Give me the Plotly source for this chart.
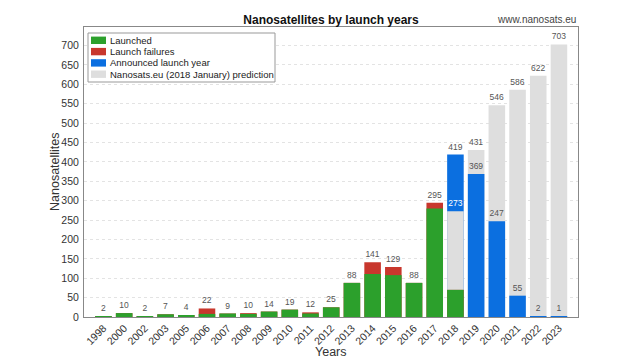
import plotly.graph_objects as go

years = ['1998', '2000', '2002', '2003', '2005', '2006', '2007', '2008', '2009', '2010',
         '2011', '2012', '2013', '2014', '2015', '2016', '2017', '2018', '2019', '2020',
         '2021', '2022', '2023']

# historic launches (1998-2018)
hist_years = years[:18]
launched = [2, 10, 2, 7, 4, 8, 9, 8, 14, 19, 9, 25, 88, 111, 108, 88, 280, 70]
failures = [0, 0, 0, 0, 0, 14, 0, 2, 0, 0, 3, 0, 0, 30, 21, 0, 15, 0]

# future (2018-2023)
future_years = years[17:]
announced = [419, 369, 247, 55, 2, 1]
prediction = [273, 431, 546, 586, 622, 703]

legend_names = ['Launched', 'Launch failures', 'Announced launch year',
                'Nanosats.eu (2018 January) prediction']

GREEN = '#2ca02c'
RED = '#c8372d'
BLUE = '#0b6fe0'
GRAY = '#dedede'
LABEL = '#555555'
FONT = 'Liberation Sans, Arial, sans-serif'
legend_colors = [GREEN, RED, BLUE, GRAY]

totals = [a + b for a, b in zip(launched, failures)]
hist_text = [str(t) for t in totals[:17]] + ['']

# figure geometry (page body has an 8px margin)
W, H = 632, 352
ML, MR, MT, MB = 76, 62, 19, 43
PW, PH = W - ML - MR, H - MT - MB


def px_x(px):  # px from plot-area left -> paper
    return px / PW


def px_y(px):  # px from plot-area top -> paper
    return 1 - px / PH


lbl = dict(textposition='outside', constraintext='none', cliponaxis=False, width=0.8)

fig = go.Figure()

fig.add_trace(go.Bar(
    x=future_years[1:], y=prediction[1:], name=legend_names[3],
    marker=dict(color=GRAY, line=dict(width=0)), text=[str(v) for v in prediction[1:]],
    textfont=dict(color=LABEL, size=8.5), showlegend=False, **lbl))

fig.add_trace(go.Bar(
    x=future_years, y=announced, name=legend_names[2],
    marker=dict(color=BLUE, line=dict(width=0)), text=[str(v) for v in announced],
    textfont=dict(color=LABEL, size=8.5), showlegend=False, **lbl))

# 2018 prediction lies below the announced value, drawn on top of it
fig.add_trace(go.Bar(
    x=future_years[:1], y=prediction[:1], name=legend_names[3],
    marker=dict(color=GRAY, line=dict(width=0)), text=[str(prediction[0])],
    textfont=dict(color='white', size=8.5), showlegend=False, **lbl))

fig.add_trace(go.Bar(
    x=hist_years, y=totals, name=legend_names[1],
    marker=dict(color=RED, line=dict(width=0)), text=hist_text,
    textfont=dict(color=LABEL, size=8.5), showlegend=False, **lbl))

fig.add_trace(go.Bar(
    x=hist_years, y=launched, name=legend_names[0],
    marker=dict(color=GREEN, line=dict(width=0)), showlegend=False, width=0.8))

# compact legend box
shapes = [dict(type='rect', xref='paper', yref='paper',
               x0=px_x(4), x1=px_x(191), y0=px_y(55), y1=px_y(6),
               fillcolor='white', line=dict(color='#999999', width=1))]
annotations = []
for i, (name, col) in enumerate(zip(legend_names, legend_colors)):
    cy = 13.3 + i * 11.3
    shapes.append(dict(type='rect', xref='paper', yref='paper',
                       x0=px_x(7), x1=px_x(22), y0=px_y(cy + 3.7), y1=px_y(cy - 3.7),
                       fillcolor=col, line=dict(width=0)))
    annotations.append(dict(text=name, xref='paper', yref='paper', x=px_x(24), y=px_y(cy),
                            xanchor='left', yanchor='middle', showarrow=False,
                            font=dict(size=9.5, color='#222222')))

annotations += [
    dict(text='www.nanosats.eu', xref='paper', yref='paper', x=1, y=1,
         xanchor='right', yanchor='bottom', showarrow=False,
         font=dict(size=10, color='#444444')),
    dict(text='Nanosatellites', xref='paper', yref='paper', x=0, y=0.5, xshift=-29,
         xanchor='center', yanchor='middle', textangle=-90, showarrow=False,
         font=dict(size=12.5, color='#333333')),
    dict(text='Years', xref='paper', yref='paper', x=0.5, y=0, yshift=-35,
         xanchor='center', yanchor='middle', showarrow=False,
         font=dict(size=12.5, color='#333333')),
]

fig.update_layout(
    barmode='overlay',
    width=W, height=H,
    margin=dict(l=ML, r=MR, t=MT, b=MB),
    paper_bgcolor='white', plot_bgcolor='white',
    font=dict(family=FONT, size=10.5, color='#333333'),
    showlegend=False,
    title=dict(text='<b>Nanosatellites by launch years</b>', x=0.5, xref='paper',
               y=1 - 12 / H, yref='container', yanchor='middle',
               font=dict(size=12, color='#111111', family=FONT)),
    xaxis=dict(type='category', categoryorder='array', categoryarray=years,
               range=[-0.94, 22.92], tickangle=-45, showgrid=False,
               showline=True, linecolor='#888888', mirror=True, ticks='',
               automargin=False),
    yaxis=dict(range=[0, 748], dtick=50, tick0=0, showgrid=True,
               gridcolor='#e3e3e3', griddash='dot', zeroline=False,
               showline=True, linecolor='#888888', mirror=True, ticks='',
               ticklabelstandoff=2, automargin=False),
    shapes=shapes,
    annotations=annotations,
)

fig.write_html('out.html')
